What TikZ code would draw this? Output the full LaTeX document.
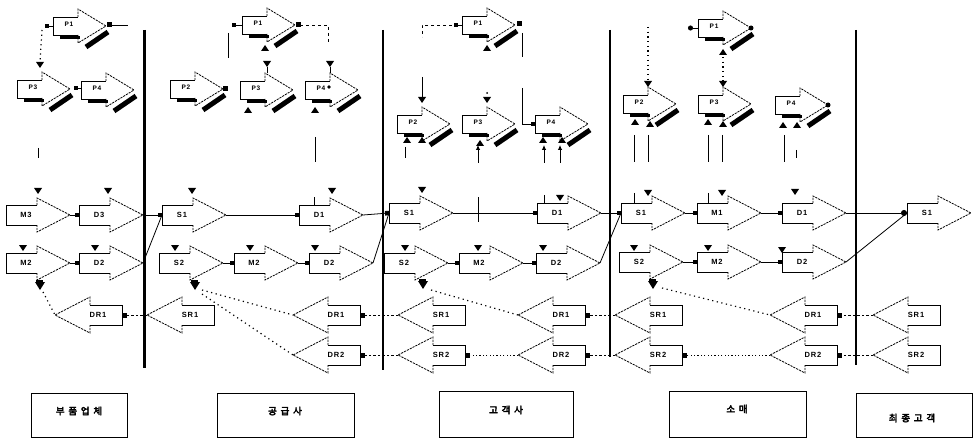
\documentclass[tikz,border=0pt]{standalone}
\usepackage{fontspec}
\setsansfont{Liberation Sans}[LetterSpace=12]
\newfontfamily\cjk{Noto Sans CJK KR}[LetterSpace=40,FakeBold=4]
\usetikzlibrary{arrows.meta,calc}

\tikzset{
  bodyln/.style={line width=0.8pt},
  headln/.style={line width=0.8pt, dash pattern=on 2.2pt off 1pt},
  plbl/.style={font=\sffamily\bfseries\fontsize{7.5}{8}\selectfont, inner sep=0pt},
  ppl/.style={font=\sffamily\bfseries\fontsize{6.5}{7}\selectfont, inner sep=0pt},
  % process element pointing right
  procR/.pic={
    \draw[bodyln] (0,-10) -- (-31,-10) -- (-31,10) -- (0,10);
    \draw[headln] (0,-10) -- (0,-17) -- (33,0) -- (0,17) -- (0,10);
    \node[plbl] (-l) at (-11,0) {#1};
    \coordinate (-in) at (-31,0);
    \coordinate (-out) at (33,0);
    \coordinate (-bot) at (0,17);
  },
  % return element pointing left
  procL/.pic={
    \draw[bodyln] (0,-10) -- (32,-10) -- (32,10) -- (0,10);
    \draw[headln] (0,-10) -- (0,-18) -- (-35,0) -- (0,18) -- (0,10);
    \node[plbl] (-l) at (8,0) {#1};
    \coordinate (-in) at (32,0);
    \coordinate (-out) at (-35,0);
  },
  % planning element with drop shadow
  plan/.pic={
    \fill (-18,10) rectangle (2,13.5);
    \draw[line width=5pt] (8,21) -- (30,6);
    \draw[bodyln] (0,-9) -- (-25,-9) -- (-25,9) -- (0,9);
    \draw[headln] (0,-9) -- (0,-17) -- (28,0) -- (0,17) -- (0,9);
    \node[ppl] (-l) at (-9,-2) {#1};
    \coordinate (-in) at (-25,0);
    \coordinate (-out) at (28,0);
    \coordinate (-top) at (0,-17);
  },
  dmark/.pic={\fill (-4,-3) -- (4,-3) -- (0,3) -- cycle;},
  umark/.pic={\fill (-4,3) -- (4,3) -- (0,-3) -- cycle;},
  blob/.pic={\fill (-5,-3) -- (5,-3) -- (0,5) -- cycle; \fill (-4,-5) rectangle (3,-1);},
  sqm/.pic={\fill (-2.5,-2.5) rectangle (2.5,2.5);},
  dotm/.pic={\fill (0,0) circle (2.5);},
  lnk/.style={line width=0.8pt},
  fwd/.style={line width=0.8pt, -{Square[length=4pt,width=4.5pt]}},
  ret/.style={line width=0.8pt, dash pattern=on 2.5pt off 2pt, -{Square[length=4.5pt,width=5pt]}},
  retdot/.style={line width=0.9pt, dash pattern=on 1.2pt off 2.2pt, -{Square[length=4.5pt,width=5pt]}},
  dotc/.style={line width=1.2pt, dash pattern=on 1.2pt off 3.5pt},
  sep/.style={line width=2.2pt},
  tier/.style={draw, line width=1pt, anchor=north west, inner sep=0pt},
  boxlbl/.style={font=\cjk\fontsize{9.5}{10}\selectfont, inner sep=0pt},
  upar/.style={line width=0.8pt, -{Latex[length=5pt,width=4.5pt]}},
}

\begin{document}
\begin{tikzpicture}[x=1pt,y=-1pt]
\useasboundingbox (0,0) rectangle (975,441);

% ---------- tier separators ----------
\draw[sep, line width=3pt] (144,30) -- (144,368);
\draw[sep] (383,30) -- (383,370);
\draw[sep] (610,30) -- (610,357);
\draw[sep] (856,30) -- (856,365);

% ================= tier 1 =================
\pic (p1a) at (78,26) {plan=P1};
\pic (p3a) at (42,89) {plan=P3};
\pic (p4a) at (106,90) {plan=P4};
\draw[lnk, {Square[length=4pt,width=4pt]}-] ($(p1a-in)+(-8,0)$) -- (p1a-in);
\pic at ($(p1a-out)+(3,-1)$) {sqm};
\draw[lnk] ($(p1a-out)+(3,-1)$) -- ($(p1a-out)+(22,-1)$);
\draw[dotc] ($(p1a-in)+(-11,4)$) -- ($(p3a-top)+(-2,-10)$);
\pic at ($(p3a-top)+(-2,-7)$) {dmark};
\draw[lnk, {Square[length=4pt,width=4pt]}-] ($(p4a-in)+(-7,-2)$) -- ($(p4a-in)+(0,-2)$);
\draw[lnk] (38,148) -- (38,158);

\pic (m3a) at (37,215) {procR=M3};
\pic (d3a) at (110,215) {procR=D3};
\pic (m2a) at (37,263) {procR=M2};
\pic (d2a) at (110,263) {procR=D2};
\pic (dr1a) at (90,315) {procL=DR1};
\pic at (38,191) {dmark};
\pic at (108,191) {dmark};
\pic at (23,248) {dmark};
\pic at (95,248) {dmark};
\draw[fwd] (m3a-out) -- (d3a-in);
\draw[fwd] (m2a-out) -- (d2a-in);
\pic at ($(m2a-bot)+(3,5)$) {blob};
\draw[dotc] ($(m2a-bot)+(6,12)$) -- (dr1a-out);

% ================= tier 2 =================
\pic (p1b) at (267,25) {plan=P1};
\pic (p2b) at (195,89) {plan=P2};
\pic (p3b) at (265,90) {plan=P3};
\pic (p4b) at (330,90) {plan=P4};
\draw[lnk, {Square[length=4pt,width=4pt]}-] ($(p1b-in)+(-10,0)$) -- (p1b-in);
\draw[lnk] ($(p1b-in)+(-14,8)$) -- ($(p1b-in)+(-14,33)$);
\pic at ($(p1b-out)+(3,0)$) {sqm};
\draw[lnk, dashed] ($(p1b-out)+(5,0)$) -| ($(p1b-out)+(33,18)$);
\pic at ($(p1b-in)+(23,23)$) {umark};
\pic at ($(p2b-out)+(2,0)$) {sqm};
\pic at ($(p3b-top)+(2,-9)$) {dmark};
\draw[lnk] ($(p3b-top)+(2,-6)$) -- ($(p3b-top)+(2,0)$);
\pic at ($(p3b-in)+(8,20)$) {umark};
\pic at ($(p4b-top)+(0,-9)$) {dmark};
\draw[lnk] ($(p4b-top)+(0,-6)$) -- ($(p4b-top)+(0,0)$);
\fill ($(p4b-top)+(-1,14)$) circle (1.8);
\pic at ($(p4b-in)+(10,20)$) {umark};
\draw[lnk] (315,137) -- (315,162);
\draw[lnk] (314,197) -- (314,205);

\pic (s1b) at (193,215) {procR=S1};
\pic (d1b) at (330,215) {procR=D1};
\pic (s2b) at (190,263) {procR=S2};
\pic (m2b) at (265,263) {procR=M2};
\pic (d2b) at (340,263) {procR=D2};
\pic (sr1b) at (182,315) {procL=SR1};
\pic (dr1b) at (328,315) {procL=DR1};
\pic (dr2b) at (328,355) {procL=DR2};
\pic at (192,191) {dmark};
\pic at (332,191) {dmark};
\pic at (175,248) {dmark};
\pic at (250,248) {dmark};
\pic at (315,248) {dmark};
\draw[fwd] (d3a-out) -- (s1b-in);
\draw[lnk] (d2a-out) -- (s1b-in);
\draw[fwd] (s1b-out) -- (d1b-in);
\draw[fwd] (s2b-out) -- (m2b-in);
\draw[fwd] (m2b-out) -- (d2b-in);
\draw[ret] (sr1b-out) -- (dr1a-in);
\pic at ($(s2b-bot)+(5,5)$) {blob};
\draw[dotc] ($(s2b-bot)+(12,10)$) -- (dr1b-out);
\draw[dotc] ($(s2b-bot)+(12,14)$) -- (dr2b-out);

% ================= tier 3 =================
\pic (p1c) at (487,25) {plan=P1};
\pic (p2c) at (422,124) {plan=P2};
\pic (p3c) at (487,124) {plan=P3};
\pic (p4c) at (560,124) {plan=P4};
\draw[lnk, {Square[length=4pt,width=4pt]}-] ($(p1c-in)+(-8,0)$) -- (p1c-in);
\draw[lnk, dashed] ($(p1c-in)+(-10,0)$) -| ($(p2c-top)+(0,-70)$);
\draw[lnk] ($(p2c-top)+(0,-30)$) -- ($(p2c-top)+(0,-10)$);
\pic at ($(p2c-top)+(0,-7)$) {dmark};
\pic at ($(p1c-out)+(4,-1)$) {sqm};
\draw[lnk] ($(p1c-out)+(7,8)$) -- ($(p1c-out)+(7,32)$);
\draw[lnk, -{Square[length=4pt,width=4.5pt]}] ($(p1c-out)+(7,63)$) |- (p4c-in);
\pic at ($(p1c-in)+(25,23)$) {umark};
\pic at ($(p3c-top)+(0,-7)$) {dmark};
\fill ($(p3c-top)+(0,-14)$) circle (1);
\pic at ($(p2c-in)+(10,16)$) {umark};
\pic at ($(p2c-in)+(25,16)$) {umark};
\pic at ($(p3c-in)+(18,19)$) {umark};
\pic at ($(p4c-in)+(8,16)$) {umark};
\pic at ($(p4c-in)+(27,16)$) {umark};
\draw[lnk] (405,147) -- (405,158);
\draw[upar] (478,163) -- (478,145);
\draw[upar] (544,163) -- (544,145);
\draw[upar] (560,163) -- (560,145);

\pic (s1c) at (420,213) {procR=S1};
\pic (d1c) at (568,213) {procR=D1};
\pic (s2c) at (415,263) {procR=S2};
\pic (m2c) at (490,263) {procR=M2};
\pic (d2c) at (567,263) {procR=D2};
\pic (sr1c) at (433,315) {procL=SR1};
\pic (sr2c) at (433,355) {procL=SR2};
\pic (dr1c) at (553,315) {procL=DR1};
\pic (dr2c) at (553,355) {procL=DR2};
\pic at (422,190) {dmark};
\pic at (560,198) {dmark};
\pic at (405,248) {dmark};
\pic at (478,248) {dmark};
\pic at (543,248) {dmark};
\draw[fwd] (d1b-out) -- (s1c-in);
\draw[lnk] (d2b-out) -- (s1c-in);
\draw[fwd] (s1c-out) -- (d1c-in);
\draw[lnk] (478,197) -- (478,222);
\draw[lnk] (544,195) -- (544,204);
\draw[fwd] (s2c-out) -- (m2c-in);
\draw[fwd] (m2c-out) -- (d2c-in);
\draw[ret] (sr1c-out) -- (dr1b-in);
\draw[ret] (sr2c-out) -- (dr2b-in);
\draw[retdot] (dr2c-out) -- (sr2c-in);
\pic at ($(s2c-bot)+(8,4)$) {blob};
\draw[dotc] ($(s2c-bot)+(16,10)$) -- (dr1c-out);

% ================= tier 4 =================
\pic (p1d) at (723,28) {plan=P1};
\pic (p2d) at (648,104) {plan=P2};
\pic (p3d) at (723,104) {plan=P3};
\pic (p4d) at (800,105) {plan=P4};
\draw[lnk, {Circle[length=5pt]}-] ($(p1d-in)+(-10,0)$) -- (p1d-in);
\pic at (p1d-out) {dotm};
\pic at ($(p1d-in)+(25,24)$) {umark};
\draw[dotc] ($(p1d-in)+(25,29)$) -- ($(p3d-top)+(0,-6)$);
\pic at ($(p3d-top)+(0,-3)$) {dmark};
\draw[dotc] ($(p2d-top)+(0,-60)$) -- ($(p2d-top)+(0,-6)$);
\pic at ($(p2d-top)+(0,-3)$) {dmark};
\pic at ($(p2d-in)+(12,18)$) {umark};
\pic at ($(p2d-in)+(27,20)$) {umark};
\pic at ($(p3d-in)+(10,18)$) {umark};
\pic at ($(p3d-in)+(25,20)$) {umark};
\pic at ($(p4d-in)+(8,20)$) {umark};
\pic at ($(p4d-in)+(22,20)$) {umark};
\pic at (p4d-out) {dotm};
\draw[lnk] (634,135) -- (634,162);
\draw[lnk] (648,135) -- (648,162);
\draw[lnk] (708,135) -- (708,162);
\draw[lnk] (722,135) -- (722,162);
\draw[lnk] (784,135) -- (784,162);
\draw[lnk] (796,150) -- (796,158);

\pic (s1d) at (652,213) {procR=S1};
\pic (m1d) at (728,213) {procR=M1};
\pic (d1d) at (813,213) {procR=D1};
\pic (s2d) at (650,262) {procR=S2};
\pic (m2d) at (728,262) {procR=M2};
\pic (d2d) at (813,262) {procR=D2};
\pic (sr1d) at (650,315) {procL=SR1};
\pic (sr2d) at (650,355) {procL=SR2};
\pic (dr1d) at (805,315) {procL=DR1};
\pic (dr2d) at (805,355) {procL=DR2};
\pic at (648,193) {dmark};
\pic at (722,193) {dmark};
\pic at (795,192) {dmark};
\pic at (634,248) {dmark};
\pic at (708,248) {dmark};
\pic at (782,250) {dmark};
\draw[lnk] (634,193) -- (634,203);
\draw[lnk] (708,193) -- (708,203);
\draw[fwd] (d1c-out) -- (s1d-in);
\draw[lnk] (d2c-out) -- (s1d-in);
\draw[fwd] (s1d-out) -- (m1d-in);
\draw[fwd] (m1d-out) -- (d1d-in);
\draw[fwd] (s2d-out) -- (m2d-in);
\draw[fwd] (m2d-out) -- (d2d-in);
\draw[ret] (sr1d-out) -- (dr1c-in);
\draw[ret] (sr2d-out) -- (dr2c-in);
\draw[retdot] (dr2d-out) -- (sr2d-in);
\pic at ($(s2d-bot)+(3,5)$) {blob};
\draw[dotc] ($(s2d-bot)+(12,9)$) -- (dr1d-out);

% ================= tier 5 =================
\pic (s1e) at (938,213) {procR=S1};
\pic (sr1e) at (908,315) {procL=SR1};
\pic (sr2e) at (908,355) {procL=SR2};
\draw[lnk, -{Circle[length=6pt]}] (d1d-out) -- (s1e-in);
\draw[lnk] (d2d-out) -- (s1e-in);
\draw[ret] (sr1e-out) -- (dr1d-in);
\draw[ret] (sr2e-out) -- (dr2d-in);

% ---------- tier captions ----------
\node[tier, minimum width=96pt, minimum height=44pt] (b1) at (31,393) {};
\node[tier, minimum width=137pt, minimum height=44pt] (b2) at (217,393) {};
\node[tier, minimum width=134pt, minimum height=46pt] (b3) at (439,391) {};
\node[tier, minimum width=137pt, minimum height=46pt] (b4) at (669,391) {};
\node[tier, minimum width=116pt, minimum height=44pt] (b5) at (856,393) {};
\node[boxlbl] (t1) at (79,411) {부품업체};
\node[boxlbl] (t2) at (285,411) {공급사};
\node[boxlbl] (t3) at (506,410) {고객사};
\node[boxlbl] (t4) at (737,409) {소매};
\node[boxlbl] (t5) at (912,418) {최종고객};
\end{tikzpicture}
\end{document}
